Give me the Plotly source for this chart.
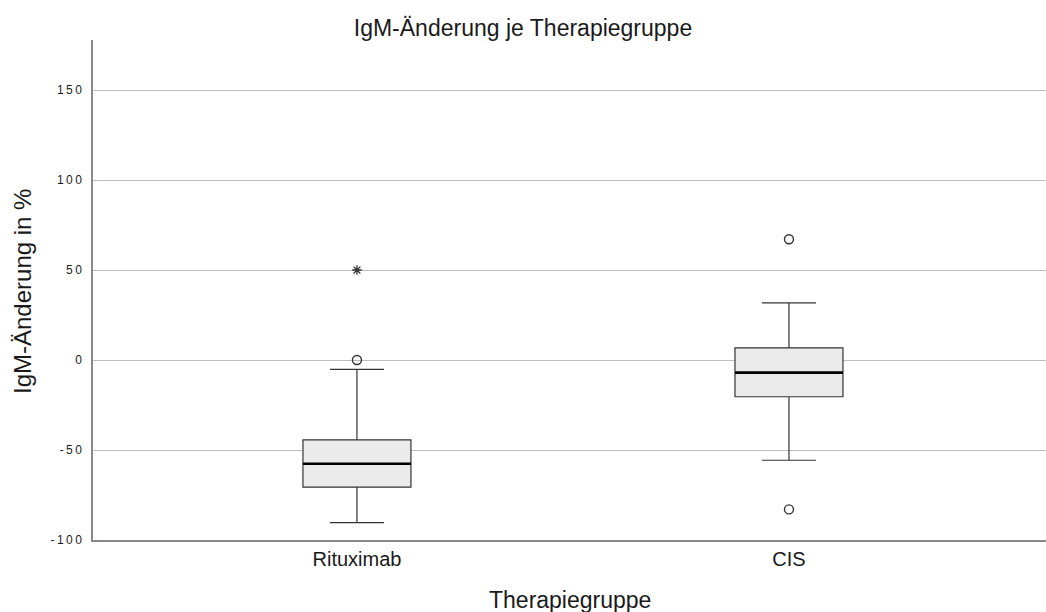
import plotly.graph_objects as go

groups = ["Rituximab", "CIS"]
q1 = [-70.6, -20.4]
median = [-57.6, -7.0]
q3 = [-44.4, 6.8]
lower_whisker = [-90.4, -55.7]
upper_whisker = [-5.2, 31.7]
outliers_circle = [[0.0], [67.1, -83.0]]
outliers_extreme = [[50.0], []]

y_ticks = [-100, -50, 0, 50, 100, 150]
y_ticklabels = ["-100", "-50", "0", "50", "100", "150"]

BOX_W = 0.25
FILL = "#EBEBEB"
LINE = "#333333"
TXT = "#1a1a1a"


def spaced(s):
    return "\u2009".join(list(s))


fig = go.Figure()
for i, g in enumerate(groups):
    fig.add_trace(go.Box(
        x=[i], q1=[q1[i]], median=[median[i]], q3=[q3[i]],
        lowerfence=[lower_whisker[i]], upperfence=[upper_whisker[i]],
        width=BOX_W, whiskerwidth=0.5, fillcolor=FILL,
        line=dict(color=LINE, width=1.2), boxpoints=False,
        showlegend=False, hoverinfo="skip"))
    fig.add_trace(go.Scatter(
        x=[i - BOX_W / 2, i + BOX_W / 2], y=[median[i], median[i]],
        mode="lines", line=dict(color="#000000", width=2.6),
        showlegend=False, hoverinfo="skip"))
    if outliers_circle[i]:
        fig.add_trace(go.Scatter(
            x=[i] * len(outliers_circle[i]), y=outliers_circle[i], mode="markers",
            marker=dict(symbol="circle-open", size=9, color=LINE, line=dict(width=1.4)),
            showlegend=False, hoverinfo="skip"))
    if outliers_extreme[i]:
        fig.add_trace(go.Scatter(
            x=[i] * len(outliers_extreme[i]), y=outliers_extreme[i], mode="markers",
            marker=dict(symbol="asterisk-open", size=8, color=LINE, line=dict(width=1.3, color=LINE)),
            showlegend=False, hoverinfo="skip"))

fig.update_layout(
    template="none",
    width=1046, height=612,
    margin=dict(l=93, r=0, t=40, b=72),
    paper_bgcolor="white", plot_bgcolor="white",
    font=dict(family="Liberation Sans, Arial, sans-serif", color=TXT),
    title=dict(text="IgM-Änderung je Therapiegruppe", x=0.5, xanchor="center",
               y=1 - 28 / 612, yanchor="middle", yref="container",
               font=dict(size=23, color=TXT)),
    xaxis=dict(range=[-0.611, 1.595], tickvals=[0, 1], ticktext=groups,
               showgrid=False, zeroline=False, showline=True, linecolor="#888888",
               linewidth=1.5, ticks="", tickfont=dict(size=20, color=TXT)),
    yaxis=dict(range=[-100, 177.8], tickvals=y_ticks,
               ticktext=[spaced(t) for t in y_ticklabels],
               showgrid=True, gridcolor="#BDBDBD", gridwidth=1.2, zeroline=False,
               showline=True, linecolor="#888888", linewidth=1.5, ticks="",
               ticklabelstandoff=7,
               tickfont=dict(size=12, color=TXT)),
    annotations=[
        dict(text="IgM-Änderung in %", textangle=-90, xref="paper", yref="paper",
             x=(22 - 93) / 953, y=(540 - 292) / 500, xanchor="center", yanchor="middle",
             showarrow=False, font=dict(size=24, color=TXT)),
        dict(text="Therapiegruppe", xref="paper", yref="paper",
             x=0.5, y=(540 - 600) / 500, xanchor="center", yanchor="middle",
             showarrow=False, font=dict(size=23, color=TXT)),
    ],
)

fig.write_html("out.html")
